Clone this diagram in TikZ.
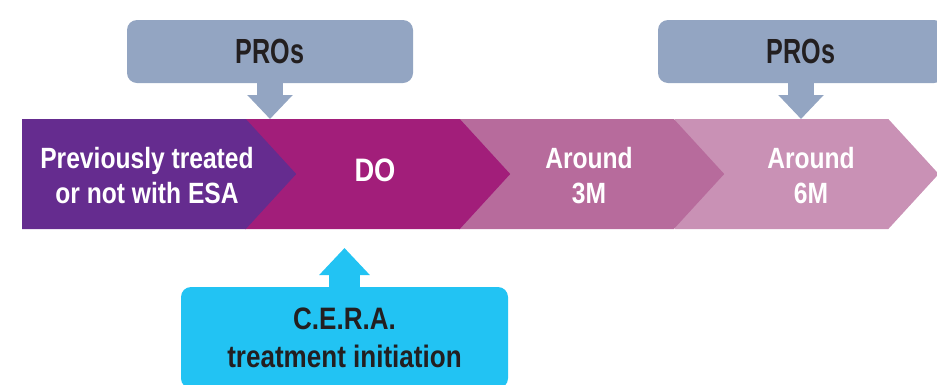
\documentclass[tikz,border=0pt]{standalone}
\usepackage{fontspec}
\setmainfont{Liberation Sans}[FakeStretch=0.84]
\newfontfamily\prosfont{Liberation Sans}[FakeStretch=0.72]
\usetikzlibrary{shapes.symbols,arrows.meta}
\definecolor{esapurple}{HTML}{652C8F}
\definecolor{domagenta}{HTML}{A21E7A}
\definecolor{threepink}{HTML}{B76B9C}
\definecolor{sixpink}{HTML}{C991B5}
\definecolor{prosblue}{HTML}{93A5C2}
\definecolor{ceracyan}{HTML}{22C3F3}
\definecolor{darktext}{HTML}{231F20}
\begin{document}
\begin{tikzpicture}[x=1pt,y=-1pt,
	chevron/.style={signal, signal to=east, signal pointer angle=95, minimum height=110pt, minimum width=#1, inner sep=0pt, outer sep=0pt},
	steptext/.style={text=white, align=center, font=\bfseries\fontsize{29.3}{35.7}\selectfont},
	prosbox/.style={fill=prosblue, rounded corners=10pt, minimum width=286pt, minimum height=63pt, inner sep=0pt, text=darktext, font=\prosfont\bfseries\fontsize{34.9}{40}\selectfont},
	cerabox/.style={fill=ceracyan, rounded corners=10pt, minimum width=327pt, minimum height=101.4pt, inner sep=0pt, align=center, text=darktext, font=\bfseries\fontsize{31}{37.7}\selectfont},
	pointer/.style={draw=#1, line width=26pt, -{Triangle[width=44pt,length=24pt]}}]
	\useasboundingbox (0, 0) rectangle (937, 384);
	\node[chevron=264pt, fill=sixpink] (s4) at (781.5, 174) {};
	\node[chevron=265pt, fill=threepink] (s3) at (566.5, 174) {};
	\node[chevron=265pt, fill=domagenta] (s2) at (352.5, 174) {};
	\node[chevron=274pt, fill=esapurple] (s1) at (134, 174) {};
	\node[steptext] (t1) at (147, 175.6) {Previously treated\\or not with ESA};
	\node[steptext, font=\bfseries\fontsize{32.5}{38}\selectfont] (t2) at (375, 170.7) {DO};
	\node[steptext] (t3) at (589, 175.6) {Around\\3M};
	\node[steptext] (t4) at (811, 175.6) {Around\\6M};
	\node[prosbox] (p1) at (270, 51.5) {PROs};
	\node[prosbox] (p2) at (801, 51.5) {PROs};
	\draw[pointer=prosblue] (p1.south) -- (p1.south |- s2.north);
	\draw[pointer=prosblue] (p2.south) -- (p2.south |- s4.north);
	\node[cerabox] (cera) at (344.5, 337.7) {C.E.R.A.\\treatment initiation};
	\coordinate (ceratip) at (344.5, 248);
	\draw[pointer=ceracyan, line width=31pt, -{Triangle[width=49pt,length=27pt]}] (cera.north) -- (ceratip);
\end{tikzpicture}
\end{document}
